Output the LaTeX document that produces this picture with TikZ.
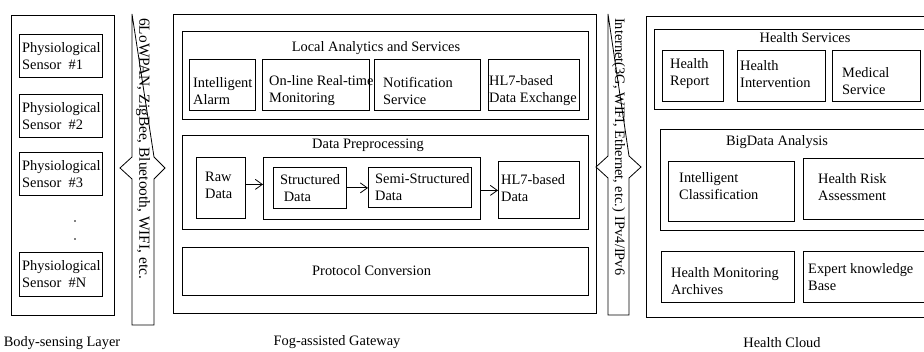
\documentclass[tikz,border=0pt]{standalone}
\usepackage{fontspec}
\setmainfont{Liberation Serif}
\usetikzlibrary{calc,arrows.meta}
\tikzstyle{box}=[draw,line width=0.8pt,anchor=north west,inner sep=0pt]
\tikzstyle{txt}=[anchor=west,align=left,inner sep=0pt]
\tikzstyle{title}=[inner sep=0pt]
\tikzstyle{dot}=[circle,fill=black,inner sep=0.7pt]
\tikzstyle{edge}=[draw,line width=0.8pt,-{Straight Barb[length=7pt,width=10pt]}]
\tikzstyle{bus}=[draw,line width=0.8pt,fill=white]

\begin{document}
\begin{tikzpicture}[x=1pt,y=-1pt,font=\fontsize{14.4}{17}\selectfont]
    \clip (0,0) rectangle (924,352);

    % layers and groups
    \foreach \x/\y/\w/\h/\name in {11/15/103/300/body, 173/14/423/299/fog, 646/16/300/301/cloud, 182/31/406/88/local, 182/135/406/94/prep, 263/157/217/62/grp, 654/29/300/80/hserv, 660/129/290/101/bigdata}
        \node[box,minimum width=\w,minimum height=\h] (\name) at (\x,\y) {};

    % boxes with text
    \foreach \x/\y/\w/\h/\name/\dx/\dy/\txt in {
        19/34/83/43/s1/3/0/{Physiological\\Sensor\ \ \#1},
        19/94/83/43/s2/3/0/{Physiological\\Sensor\ \ \#2},
        19/152/83/43/s3/3/0/{Physiological\\Sensor\ \ \#3},
        19/252/83/44/sn/3/0/{Physiological\\Sensor\ \ \#N},
        189/59/66/51/alarm/4/6/{Intelligent\\Alarm},
        262/59/107/51/online/7/6/{On-line Real-time\\Monitoring},
        374/59/106/51/notif/9/6/{Notification\\Service},
        488/59/91/51/hlx/1/6/{HL7-based\\Data Exchange},
        196/157/49/61/raw/9/-3/{Raw\\Data},
        273/167/73/41/struct/7/0/{Structured\\\ Data},
        368/167/103/40/semi/7/0/{Semi-Structured\\Data},
        498/161/81/57/hld/3/-2/{HL7-based\\Data},
        182/247/406/48/proto/130/-1/{Protocol Conversion},
        662/50/61/51/hrep/8/-2/{Health\\Report},
        737/50/88/51/hint/3/-2/{Health\\Intervention},
        832/50/88/51/medsv/10/5.5/{Medical\\Service},
        668/161/126/60/iclass/11/-5.5/{Intelligent\\Classification},
        803/158/140/61/hrisk/15/-2/{Health Risk\\Assessment},
        661/251/133/51/archive/10/4/{Health Monitoring\\Archives},
        803/251/140/51/expert/5/0/{Expert knowledge\\Base}}
    {
        \node[box,minimum width=\w,minimum height=\h] (\name) at (\x,\y) {};
        \node[txt] (\name-t) at ($(\name.west)+(\dx,\dy)$) {\txt};
    }

    \node[dot] (dot1) at (75,221) {};
    \node[dot] (dot2) at (75,239) {};

    \node[title] (local-t) at (376,48) {Local Analytics and Services};
    \node[title] (prep-t) at (368,145) {Data Preprocessing};
    \node[title] (hserv-t) at (805,38) {Health Services};
    \node[title] (bigdata-t) at (777,142) {BigData Analysis};

    \node[title] (body-l) at (62,343) {Body-sensing Layer};
    \node[title] (fog-l) at (337,342) {Fog-assisted Gateway};
    \node[title] (cloud-l) at (782,343) {Health Cloud};

    % links
    \draw[bus] (132,14) -- (132,157) -- (120,168) -- (132,179) -- (132,325) -- (154,325) -- (154,179) -- (165,168) -- (154,157) -- cycle;
    \draw[bus] (608,14) -- (608,156) -- (596,167) -- (608,178) -- (608,315) -- (629,315) -- (629,178) -- (641,167) -- (629,156) -- cycle;
    \node[title,rotate=-90,anchor=west,font=\fontsize{15.4}{17}\selectfont] (wpan) at (143,18) {6LoWPAN, ZigBee, Bluetooth, WIFI, etc.};
    \node[title,rotate=-90,anchor=west] (inet) at (618.5,18) {Internet(3G, WIFI, Ethernet, etc.) IPv4/IPv6};

    \draw[edge] ([yshift=3.5]raw.east) -- ([yshift=3.5]raw.east -| grp.west);
    \draw[edge] (struct.east) -- (struct.east -| semi.west);
    \draw[edge] ([yshift=-2]grp.east) -- ([yshift=-2]grp.east -| hld.west);
\end{tikzpicture}
\end{document}
